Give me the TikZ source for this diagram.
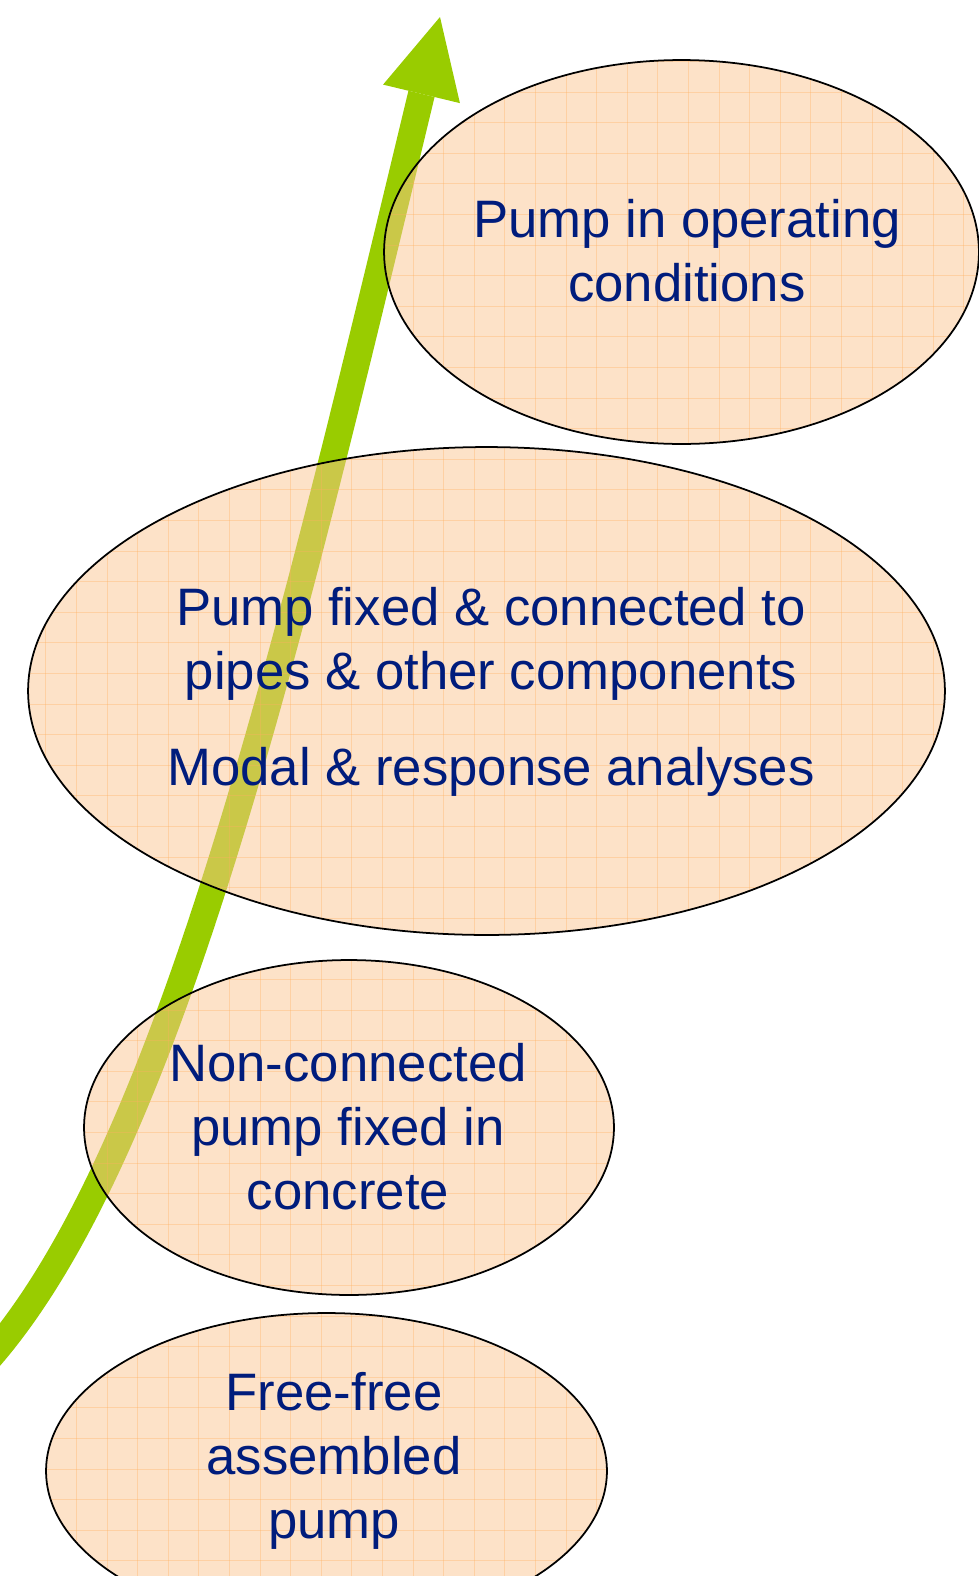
\documentclass[tikz,border=0pt]{standalone}
\usepackage{fontspec}
\setmainfont{Liberation Sans}
\usepackage{xcolor}
\definecolor{textNavy}{HTML}{001C7C}
\definecolor{stageFill}{HTML}{FBC591}
\definecolor{gridOrange}{HTML}{FFB060}
\definecolor{arrowGreen}{HTML}{99CC00}
\usepackage{tikz}
\usetikzlibrary{shapes,arrows,positioning,calc,arrows.meta}
\tikzset{%
  gridLine/.style={%
    draw=gridOrange,
    draw opacity=0.35,
    line width=0.6pt
  },
  stageEllipse/.style={%
    ellipse,
    draw=black,
    line width=1pt,
    fill=stageFill,
    fill opacity=0.5,
    text opacity=1,
    inner sep=0pt,
    outer sep=0pt,
    path picture={%
      \foreach \gx in {15.3,45.9,...,979}
        \draw[gridLine] ([xshift=\gx*0.02cm]sheetOrigin) -- ++(0,1576);
      \foreach \gy in {0.3,30.9,...,1576}
        \draw[gridLine] ([yshift=-\gy*0.02cm]sheetOrigin) -- ++(979,0);
    }
  },
  stageLabel/.style={%
    text=textNavy,
    font=\fontsize{30pt}{36.3pt}\selectfont,
    align=center,
    anchor=base,
    inner sep=0pt
  },
  growthArrow/.style={%
    draw=arrowGreen,
    line width=15.3pt,
    -{Triangle[length=45pt,width=45pt,line width=0pt]}
  }
}

\begin{document}
\begin{tikzpicture}[x=0.02cm,y=-0.02cm]
  \clip (0,0) rectangle (979,1576);
  \coordinate (sheetOrigin) at (0,0);

  % rising arrow behind the stages
  \coordinate (arrowTail) at (-20,1368);
  \coordinate (arrowTip) at (440,17);
  \draw[growthArrow] (arrowTail) .. controls (168,1165) and (290,640) .. (arrowTip);

  % stages
  \node[stageEllipse, minimum width=11.9cm, minimum height=7.68cm] (operatingStage) at (681.5,252) {};
  \node[stageEllipse, minimum width=18.34cm, minimum height=9.76cm] (connectedStage) at (486.5,691) {};
  \node[stageEllipse, minimum width=10.6cm, minimum height=6.7cm] (concreteStage) at (349,1127.5) {};
  \node[stageEllipse, minimum width=11.22cm, minimum height=6.32cm] (freeStage) at (326.5,1471) {};

  % labels, anchored on the last line
  \node[stageLabel] (operatingText) at (687,301.5) {Pump in operating\\conditions};
  \node[stageLabel] (connectedText) at (491,785) {Pump fixed \& connected to\\pipes \& other components\\[18pt]Modal \& response analyses};
  \node[stageLabel] (concreteText) at (348,1209) {Non-connected\\pump fixed in\\concrete};
  \node[stageLabel] (freeText) at (334,1538) {Free-free\\assembled\\pump};
\end{tikzpicture}
\end{document}
